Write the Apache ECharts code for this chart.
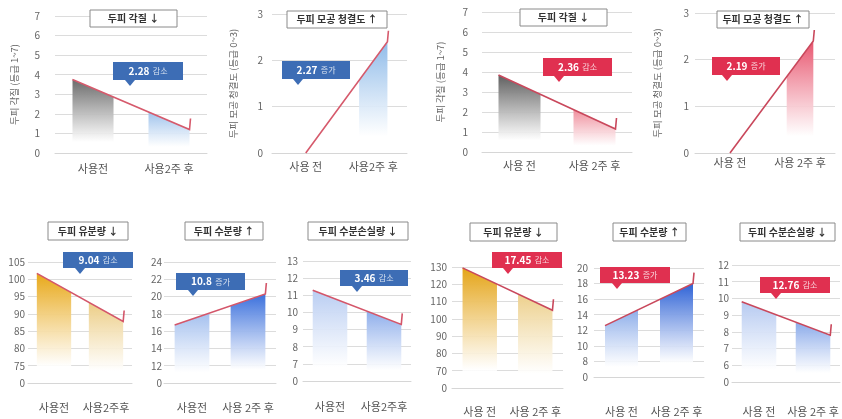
<!DOCTYPE html>
<html><head><meta charset="utf-8">
<script src="https://cdn.jsdelivr.net/npm/echarts@6/dist/echarts.min.js"></script>
<style>html,body{margin:0;padding:0;background:#fff}#c{width:842px;height:419px}</style>
</head><body><div id="c"></div>
<script>
// ---------- DATA ----------
const catsP1 = ['사용전', '사용2주 후'];
const catsP2 = ['사용 전', '사용2주 후'];
const catsRedTop = ['사용 전', '사용 2주 후'];
const catsB1 = ['사용전', '사용2주후'];
const catsB2 = ['사용전', '사용 2주 후'];
const catsB3 = ['사용전', '사용2주후'];
const catsRedBottom = ['사용 전', '사용 2주 후'];

const flakeBlue = [3.75, 1.2];
const poreBlue = [0, 2.4];
const flakeRed = [3.85, 1.15];
const poreRed = [0, 2.4];
const oilBlue = [101.7, 87.8];
const moistBlue = [16.7, 20.3];
const tewlBlue = [11.3, 9.3];
const oilRed = [129.5, 105];
const moistRed = [12.6, 18.0];
const tewlRed = [9.8, 7.8];

const ticksFlake = ['0','1','2','3','4','5','6','7'];
const ticksPore = ['0','1','2','3'];
const ticksOilBlue = ['0','75','80','85','90','95','100','105'];
const ticksMoistBlue = ['0','12','14','16','18','20','22','24'];
const ticksTewlBlue = ['0','7','8','9','10','11','12','13'];
const ticksOilRed = ['0','70','80','90','100','110','120','130'];
const ticksMoistRed = ['0','8','10','12','14','16','18','20'];
const ticksTewlRed = ['0','6','7','8','9','10','11','12'];

const titles = ['두피 각질 ↓', '두피 모공 청결도 ↑', '두피 각질 ↓', '두피 모공 청결도 ↑',
  '두피 유분량 ↓', '두피 수분량 ↑', '두피 수분손실량 ↓', '두피 유분량 ↓', '두피 수분량 ↑', '두피 수분손실량 ↓'];
const yNames = ['두피 각질 (등급 1~7)', '두피 모공 청결도 (등급 0~3)', '두피 각질 (등급 1~7)', '두피 모공 청결도 (등급 0~3)'];
const calloutNums = ['2.28', '2.27', '2.36', '2.19', '9.04', '10.8', '3.46', '17.45', '13.23', '12.76'];
const calloutWords = ['감소', '증가', '감소', '증가', '감소', '증가', '감소', '감소', '증가', '감소'];

// ---------- LAYOUT / STYLE ----------
const BLUE = '#3d6db5', RED = '#e03050';
const panels = [
  {data: flakeBlue, cats: catsP1, ticks: ticksFlake, min: 0, max: 7, interval: 1,
   grid: [55, 16, 152, 137], hw: 0.27, c1: '#6b6b6b', c2: '#9fc3ec', line: '#d65a6c', yName: 0, nameGap: 36, lm: 15, cm: 10,
   title: [90, 10, 87, 17], call: [113, 62, 70, 18, 130, BLUE]},
  {data: poreBlue, cats: catsP2, ticks: ticksPore, min: 0, max: 3, interval: 1, fromCenter: true,
   grid: [272, 14, 135, 139], hw: 0.21, c1: null, c2: '#8fbbe9', line: '#d65a6c', yName: 1, nameGap: 34, lm: 9, cm: 8,
   title: [287, 11, 100, 17], call: [282, 61, 68, 18, 298, BLUE]},
  {data: flakeRed, cats: catsRedTop, ticks: ticksFlake, min: 0, max: 7, interval: 1,
   grid: [482, 12, 150, 140], hw: 0.28, c1: '#5f5f5f', c2: '#ef8e9c', line: '#c9485c', yName: 2, nameGap: 37, lm: 14, cm: 8,
   title: [520, 9, 87, 17], call: [543, 58, 69, 18, 559, RED]},
  {data: poreRed, cats: catsRedTop, ticks: ticksPore, min: 0, max: 3, interval: 1, fromCenter: true,
   grid: [695, 13, 140, 140], hw: 0.19, c1: null, c2: '#e8566f', line: '#c9485c', yName: 3, nameGap: 33, lm: 6, cm: 4,
   title: [717, 11, 92, 17], call: [712, 57, 68, 18, 727, RED]},
  {data: oilBlue, cats: catsB1, ticks: ticksOilBlue, min: 70, max: 105, interval: 5,
   grid: [28, 262, 104, 121], hw: 0.33, c1: '#e8a818', c2: '#eccd85', line: '#d4566a', lm: 3, cm: 19,
   title: [48, 222, 80, 18], call: [63, 252, 70, 16, 80, BLUE]},
  {data: moistBlue, cats: catsB2, ticks: ticksMoistBlue, min: 10, max: 24, interval: 2,
   grid: [164, 262, 112, 121], hw: 0.31, c1: '#a4c0ef', c2: '#3b70dc', line: '#d4566a', lm: 2, cm: 19,
   title: [185, 222, 78, 18], call: [176, 273, 69, 17, 193, BLUE]},
  {data: tewlBlue, cats: catsB3, ticks: ticksTewlBlue, min: 6, max: 13, interval: 1,
   grid: [303, 261, 108, 120], hw: 0.32, c1: '#b9cdf2', c2: '#8eaeeb', line: '#d4566a', lm: 5, cm: 20,
   title: [308, 222, 100, 18], call: [340, 270, 68, 16, 357, BLUE]},
  {data: oilRed, cats: catsRedBottom, ticks: ticksOilRed, min: 60, max: 130, interval: 10,
   grid: [452, 267, 111, 121], hw: 0.31, c1: '#e4a417', c2: '#edd08c', line: '#c9485c', lm: 5, cm: 18,
   title: [470, 223, 87, 18], call: [492, 252, 70, 16, 508, RED]},
  {data: moistRed, cats: catsRedBottom, ticks: ticksMoistRed, min: 6, max: 20, interval: 2,
   grid: [594, 268, 110, 109], hw: 0.30, c1: '#8eaeea', c2: '#2f63d6', line: '#c9485c', lm: 6, cm: 29,
   title: [613, 223, 73, 18], call: [600, 267, 70, 16, 617, RED]},
  {data: tewlRed, cats: catsRedBottom, ticks: ticksTewlRed, min: 5, max: 12, interval: 1,
   grid: [732, 265, 108, 117], hw: 0.32, c1: '#b6caf1', c2: '#8aaaea', line: '#c9485c', lm: 3, cm: 24,
   title: [740, 223, 95, 18], call: [760, 277, 70, 16, 776, RED]}
];

const FONT = '"Noto Sans CJK KR", "Noto Sans", sans-serif';
const grids = [], xAxes = [], yAxes = [], series = [], graphics = [];

function grad(c) {
  return new echarts.graphic.LinearGradient(0, 0, 0, 1, [
    {offset: 0, color: c}, {offset: 0.85, color: 'rgba(255,255,255,0.9)'}, {offset: 1, color: 'rgba(255,255,255,0)'}
  ]);
}

panels.forEach((p, i) => {
  grids.push({left: p.grid[0], top: p.grid[1], width: p.grid[2], height: p.grid[3], containLabel: false});
  xAxes.push({type: 'category', gridIndex: i, data: p.cats, boundaryGap: true,
    axisLine: {show: true, lineStyle: {color: '#d6d6d6'}}, axisTick: {show: false},
    axisLabel: {color: '#555', fontSize: 11, fontFamily: FONT, margin: p.cm, interval: 0, hideOverlap: false}});
  xAxes.push({type: 'value', gridIndex: i, min: 0, max: 2, show: false, splitLine: {show: false}});
  const ticks = p.ticks;
  const ya = {type: 'value', gridIndex: i, min: p.min, max: p.max, interval: p.interval,
    axisLine: {show: false}, axisTick: {show: false},
    splitLine: {lineStyle: {color: '#dcdcdc'}},
    axisLabel: {color: '#666', fontSize: 10, fontFamily: FONT, margin: p.lm,
      formatter: (v, idx) => ticks[idx] !== undefined ? ticks[idx] : ''}};
  if (p.yName !== undefined) {
    Object.assign(ya, {name: yNames[p.yName], nameLocation: 'middle', nameGap: p.nameGap, nameRotate: 90,
      nameTextStyle: {color: '#666', fontSize: 9.5, fontFamily: FONT}});
  }
  yAxes.push(ya);

  const yMin = p.min;
  series.push({
    type: 'custom', coordinateSystem: 'cartesian2d', xAxisIndex: 2 * i + 1, yAxisIndex: i,
    data: [p.data], clip: false, silent: true,
    encode: {x: -1, y: -1},
    renderItem: (params, api) => {
      const b = api.value(0), a = api.value(1);
      const x0 = p.fromCenter ? 0.5 : 0.5 - p.hw;
      const x1 = 1.5 + p.hw;
      const p0 = api.coord([x0, b]), p1 = api.coord([x1, a]);
      const yAt = px => p0[1] + (p1[1] - p0[1]) * (px - p0[0]) / (p1[0] - p0[0]);
      const bottom = api.coord([0, yMin])[1];
      const children = [];
      [p.c1, p.c2].forEach((col, k) => {
        if (!col) return;
        let xl = api.coord([k + 0.5 - p.hw, yMin])[0];
        const xr = api.coord([k + 0.5 + p.hw, yMin])[0];
        xl = Math.max(xl, p0[0]);
        children.push({type: 'polygon',
          shape: {points: [[xl, bottom], [xl, yAt(xl)], [xr, yAt(xr)], [xr, bottom]]},
          style: {fill: grad(col)}});
      });
      children.push({type: 'polyline', shape: {points: [p0, p1, [p1[0] + 1, p1[1] - 11]]},
        style: {stroke: p.line, lineWidth: 1.6, fill: null}});
      return {type: 'group', children};
    }
  });

  // title box
  const t = p.title;
  graphics.push({type: 'rect', shape: {x: t[0], y: t[1], width: t[2], height: t[3]},
    style: {fill: '#fff', stroke: '#8a8a8a', lineWidth: 1}, z: 100});
  graphics.push({type: 'text', x: t[0] + t[2] / 2, y: t[1] + t[3] / 2, z: 101,
    style: {text: titles[i], fill: '#333', font: 'bold 10px ' + FONT, align: 'center', verticalAlign: 'middle'}});

  // callout
  const c = p.call;
  graphics.push({type: 'rect', shape: {x: c[0], y: c[1], width: c[2], height: c[3]},
    style: {fill: c[5]}, z: 100});
  graphics.push({type: 'polygon', shape: {points: [[c[4] - 5, c[1] + c[3]], [c[4] + 5, c[1] + c[3]], [c[4], c[1] + c[3] + 6]]},
    style: {fill: c[5]}, z: 100});
  graphics.push({type: 'text', x: c[0] + c[2] / 2, y: c[1] + c[3] / 2, z: 101,
    style: {text: '{n|' + calloutNums[i] + '} {w|' + calloutWords[i] + '}', align: 'center', verticalAlign: 'middle',
      rich: {n: {fill: '#fff', font: 'bold 10px ' + FONT}, w: {fill: 'rgba(255,255,255,0.8)', font: '8px ' + FONT}}}});
});

const chart = echarts.init(document.getElementById('c'), null, {renderer: 'canvas'});
chart.setOption({
  animation: false,
  backgroundColor: '#fff',
  grid: grids, xAxis: xAxes, yAxis: yAxes, series: series,
  graphic: {elements: graphics}
});
</script></body></html>
